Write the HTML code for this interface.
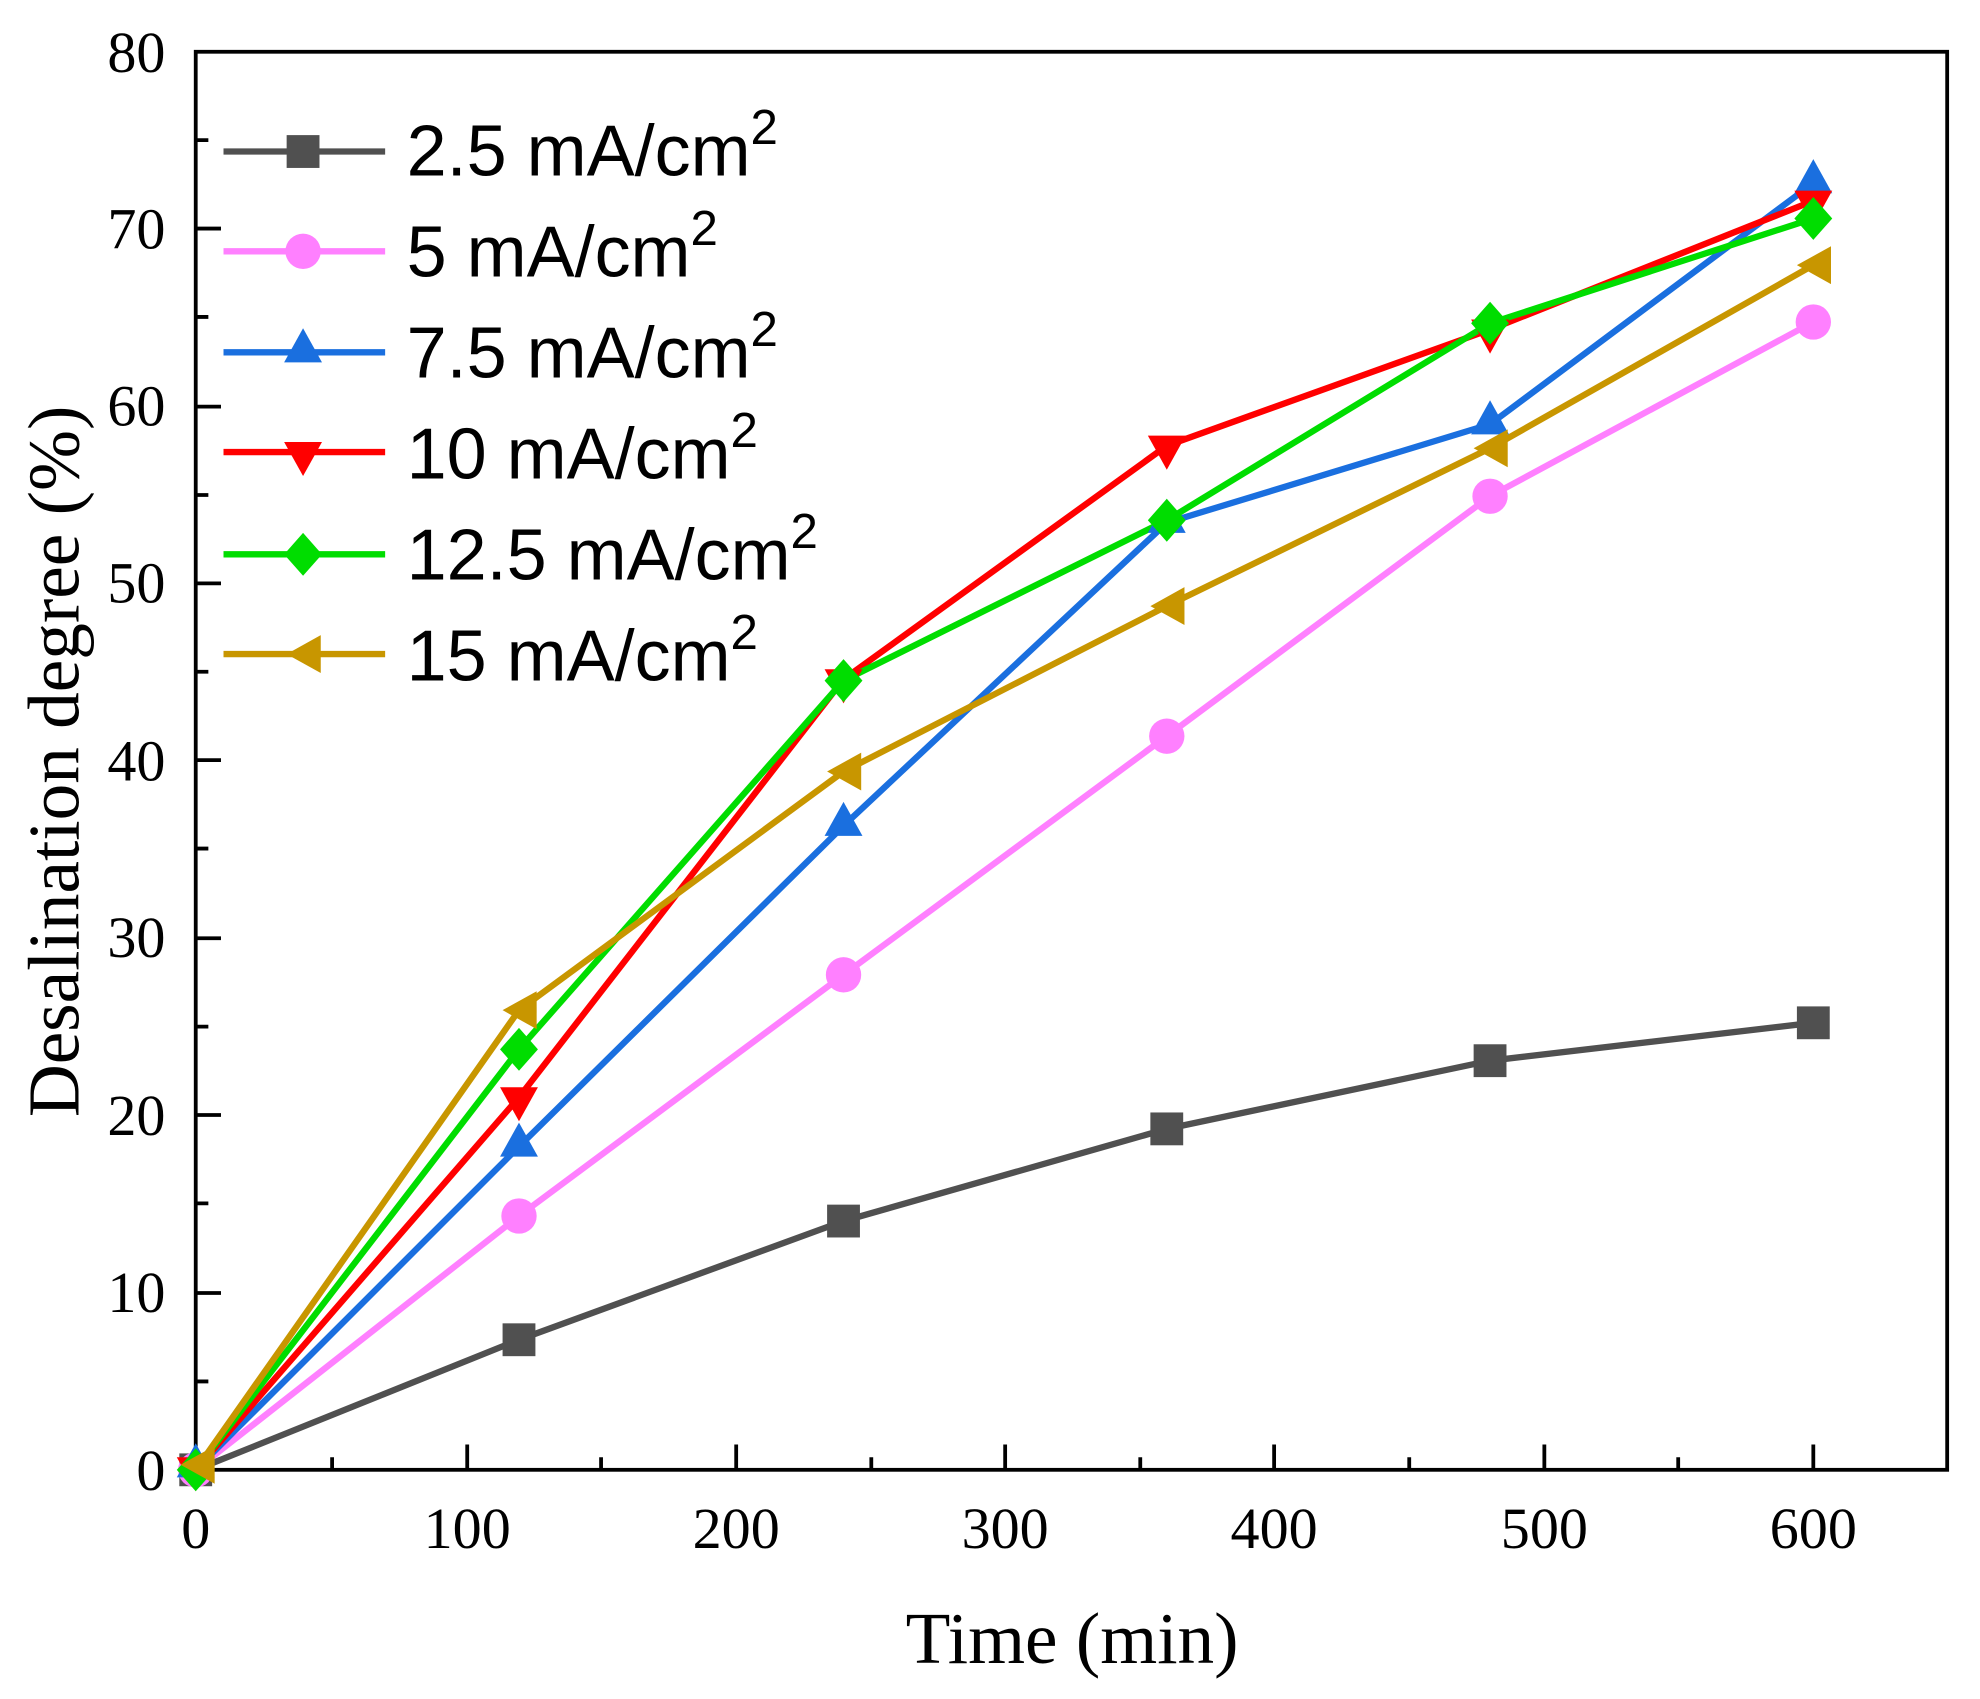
<!DOCTYPE html>
<html><head><style>html,body{margin:0;padding:0;background:#fff}svg{display:block}</style></head>
<body>
<svg width="1980" height="1699" viewBox="0 0 1568 1345.5" preserveAspectRatio="none" xmlns="http://www.w3.org/2000/svg">
<defs>
<g id="sq"><rect x="-13" y="-13" width="26" height="26"/></g>
<g id="ci"><circle r="14"/></g>
<g id="tu"><polygon points="0,-17 15,10 -15,10"/></g>
<g id="td"><polygon points="0,17 15,-10 -15,-10"/></g>
<g id="di"><polygon points="0,-17 15,0 0,17 -15,0"/></g>
<g id="tl"><polygon points="-17,0 10,-15 10,15"/></g>
</defs>
<rect width="1568" height="1346" fill="#fff"/>
<g font-family="Liberation Serif, serif" font-size="46" fill="#000">
<g text-anchor="end">
<text x="131" y="1180">0</text><text x="131" y="1039">10</text><text x="131" y="899">20</text><text x="131" y="758">30</text><text x="131" y="618">40</text><text x="131" y="477">50</text><text x="131" y="337">60</text><text x="131" y="197">70</text><text x="131" y="57">80</text>
</g>
<g text-anchor="middle">
<text x="155" y="1226">0</text><text x="370" y="1226">100</text><text x="583" y="1226">200</text><text x="796" y="1226">300</text><text x="1009" y="1226">400</text><text x="1223" y="1226">500</text><text x="1436" y="1226">600</text>
<text x="849" y="1317" font-size="58">Time (min)</text>
<text transform="translate(62,603) rotate(-90)" font-size="58">Desalination degree (%)</text>
</g>
</g>
<g stroke="#000" stroke-width="3" fill="none">
<rect x="155" y="41" width="1387" height="1123"/>
<path d="M263,1164v-10M370,1164v-20M476,1164v-10M583,1164v-20M690,1164v-10M796,1164v-20M903,1164v-10M1009,1164v-20M1116,1164v-10M1223,1164v-20M1329,1164v-10M1436,1164v-20"/>
<path d="M155,1094h10M155,1024h20M155,953h10M155,883h20M155,813h10M155,743h20M155,672h10M155,602h20M155,532h10M155,462h20M155,392h10M155,322h20M155,251h10M155,181h20M155,111h10"/>
</g>
<g stroke-width="5" fill="none" stroke-linejoin="round">
<polyline stroke="#505050" points="155,1164 411,1061 668,967 924,894 1180,840 1436,810"/>
<polyline stroke="#ff80ff" points="155,1164 411,963 668,772 924,583 1180,393 1436,255"/>
<polyline stroke="#1a6fdf" points="155,1164 411,908 668,654 924,414 1180,336 1436,145"/>
<polyline stroke="#ff0000" points="155,1164 411,869 668,538 924,353 1180,261 1436,159"/>
<polyline stroke="#00dd00" points="155,1164 411,831 668,539 924,412 1180,256 1436,173"/>
<polyline stroke="#c89600" points="155,1164 411,800 668,611 924,480 1180,355 1436,210"/>
</g>
<g fill="#505050"><use href="#sq" x="155" y="1164"/><use href="#sq" x="411" y="1061"/><use href="#sq" x="668" y="967"/><use href="#sq" x="924" y="894"/><use href="#sq" x="1180" y="840"/><use href="#sq" x="1436" y="810"/></g>
<g fill="#ff80ff"><use href="#ci" x="155" y="1164"/><use href="#ci" x="411" y="963"/><use href="#ci" x="668" y="772"/><use href="#ci" x="924" y="583"/><use href="#ci" x="1180" y="393"/><use href="#ci" x="1436" y="255"/></g>
<g fill="#1a6fdf"><use href="#tu" x="155" y="1160"/><use href="#tu" x="411" y="906"/><use href="#tu" x="668" y="652"/><use href="#tu" x="924" y="412"/><use href="#tu" x="1180" y="334"/><use href="#tu" x="1436" y="143"/></g>
<g fill="#ff0000"><use href="#td" x="155" y="1164"/><use href="#td" x="411" y="871"/><use href="#td" x="668" y="540"/><use href="#td" x="924" y="355"/><use href="#td" x="1180" y="263"/><use href="#td" x="1436" y="161"/></g>
<g fill="#00dd00"><use href="#di" x="155" y="1164"/><use href="#di" x="411" y="831"/><use href="#di" x="668" y="539"/><use href="#di" x="924" y="412"/><use href="#di" x="1180" y="256"/><use href="#di" x="1436" y="173"/></g>
<g fill="#c89600"><use href="#tl" x="160" y="1160"/><use href="#tl" x="415" y="800"/><use href="#tl" x="672" y="611"/><use href="#tl" x="928" y="480"/><use href="#tl" x="1184" y="355"/><use href="#tl" x="1440" y="210"/></g>
<g stroke-width="5">
<line x1="177" y1="120" x2="305" y2="120" stroke="#505050"/><use href="#sq" x="240" y="120" fill="#505050"/>
<line x1="177" y1="199" x2="305" y2="199" stroke="#ff80ff"/><use href="#ci" x="240" y="199" fill="#ff80ff"/>
<line x1="177" y1="279" x2="305" y2="279" stroke="#1a6fdf"/><use href="#tu" x="240" y="277" fill="#1a6fdf"/>
<line x1="177" y1="358" x2="305" y2="358" stroke="#ff0000"/><use href="#td" x="240" y="360" fill="#ff0000"/>
<line x1="177" y1="439" x2="305" y2="439" stroke="#00dd00"/><use href="#di" x="240" y="439" fill="#00dd00"/>
<line x1="177" y1="518" x2="305" y2="518" stroke="#c89600"/><use href="#tl" x="244" y="518" fill="#c89600"/>
</g>
<g font-family="Liberation Sans, Arial, sans-serif" font-size="57" fill="#000">
<text x="322" y="139">2.5 mA/cm<tspan font-size="39" dy="-25">2</tspan></text>
<text x="322" y="219">5 mA/cm<tspan font-size="39" dy="-25">2</tspan></text>
<text x="322" y="299">7.5 mA/cm<tspan font-size="39" dy="-25">2</tspan></text>
<text x="322" y="379">10 mA/cm<tspan font-size="39" dy="-25">2</tspan></text>
<text x="322" y="459">12.5 mA/cm<tspan font-size="39" dy="-25">2</tspan></text>
<text x="322" y="539">15 mA/cm<tspan font-size="39" dy="-25">2</tspan></text>
</g>
</svg>
</body></html>
